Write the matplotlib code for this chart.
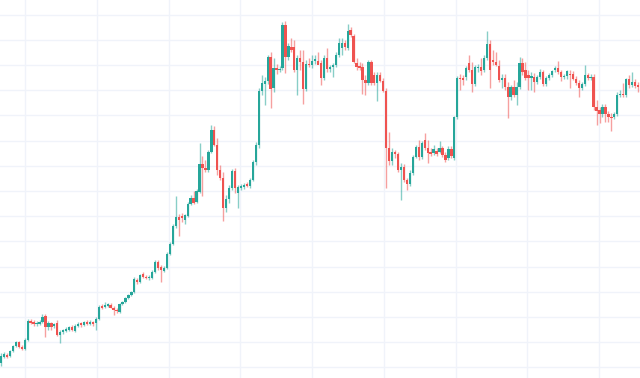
import numpy as np
import matplotlib
matplotlib.use("Agg")
import matplotlib.pyplot as plt

# OHLC values, one per candle
opens = [15, 21, 23, 22, 27, 32, 36, 31, 29, 38, 57, 56, 54, 54, 56, 62, 51, 55, 52, 55,
         43, 46, 47, 48, 51, 47, 52, 55, 53, 56, 54, 56, 55, 59, 72, 71, 72, 73, 70, 68,
         66, 74, 76, 80, 83, 86, 98, 96, 104, 101, 100, 100, 106, 116, 111, 107, 110, 124, 134, 152,
         161, 162, 158, 162, 174, 180, 176, 186, 214, 210, 208, 226, 248, 233, 208, 200, 170, 179, 190, 207,
         185, 190, 191, 194, 192, 198, 216, 233, 287, 294, 297, 321, 290, 310, 308, 310, 353, 321, 331, 331,
         308, 320, 316, 289, 314, 313, 317, 317, 315, 300, 320, 309, 311, 313, 323, 330, 335, 330, 348, 342,
         315, 312, 311, 298, 295, 316, 303, 295, 303, 297, 287, 230, 217, 226, 224, 208, 211, 198, 194, 205,
         221, 231, 221, 238, 230, 226, 225, 227, 226, 230, 223, 220, 229, 220, 261, 300, 300, 301, 315, 308,
         294, 310, 311, 308, 320, 334, 318, 316, 312, 298, 300, 291, 281, 291, 283, 291, 315, 308, 303, 300,
         301, 296, 301, 306, 294, 300, 303, 308, 310, 306, 301, 302, 304, 304, 299, 295, 290, 294, 303, 300,
         301, 271, 268, 264, 271, 264, 261, 261, 264, 283, 284, 283, 299, 293, 296, 293]
highs = [25, 26, 25, 28, 33, 37, 37, 33, 40, 59, 59, 58, 57, 58, 64, 64, 57, 56, 55, 58,
         48, 49, 51, 52, 53, 54, 56, 56, 57, 58, 58, 57, 61, 73, 74, 76, 75, 75, 72, 70,
         75, 77, 81, 84, 87, 101, 100, 104, 106, 103, 103, 108, 118, 118, 113, 112, 126, 136, 154, 182,
         164, 165, 164, 176, 183, 187, 189, 235, 222, 218, 228, 253, 252, 240, 213, 206, 183, 193, 209, 210,
         193, 194, 195, 196, 200, 218, 236, 290, 303, 301, 323, 326, 320, 314, 312, 356, 357, 335, 340, 338,
         323, 328, 328, 318, 320, 323, 323, 326, 318, 323, 330, 313, 315, 326, 340, 340, 338, 354, 351, 344,
         320, 316, 315, 303, 318, 318, 306, 306, 306, 300, 290, 246, 230, 228, 226, 215, 214, 200, 208, 223,
         233, 238, 237, 245, 238, 230, 233, 230, 237, 232, 226, 232, 232, 262, 302, 304, 303, 312, 323, 316,
         313, 314, 320, 323, 347, 338, 328, 326, 318, 304, 304, 296, 293, 298, 296, 321, 320, 316, 308, 306,
         305, 303, 309, 308, 302, 305, 308, 312, 317, 308, 304, 308, 308, 307, 302, 298, 296, 313, 305, 304,
         304, 278, 271, 274, 274, 267, 265, 266, 286, 288, 295, 300, 303, 306, 299, 296]
lows = [12, 20, 20, 21, 26, 31, 30, 28, 28, 37, 54, 52, 52, 53, 55, 41, 48, 48, 50, 42,
        35, 44, 46, 47, 47, 46, 51, 51, 52, 53, 53, 52, 48, 58, 69, 70, 71, 70, 63, 65,
        65, 73, 75, 79, 82, 85, 94, 95, 100, 99, 98, 99, 105, 108, 96, 106, 109, 123, 133, 150,
        142, 156, 154, 161, 173, 174, 175, 185, 182, 206, 206, 225, 232, 203, 198, 157, 166, 175, 188, 185,
        170, 188, 189, 191, 190, 197, 213, 230, 283, 273, 294, 270, 286, 304, 306, 308, 305, 318, 326, 306,
        283, 308, 274, 287, 311, 310, 314, 314, 293, 298, 306, 306, 301, 311, 321, 323, 328, 328, 341, 315,
        308, 308, 284, 283, 293, 293, 293, 277, 296, 286, 190, 213, 213, 220, 206, 178, 196, 188, 192, 203,
        220, 218, 219, 228, 215, 222, 223, 222, 225, 221, 216, 218, 220, 218, 259, 288, 293, 298, 306, 286,
        292, 306, 303, 306, 318, 290, 313, 312, 296, 290, 288, 260, 278, 281, 273, 289, 303, 298, 288, 288,
        286, 294, 299, 292, 292, 298, 301, 306, 304, 297, 299, 299, 290, 298, 293, 281, 288, 292, 298, 298,
        268, 253, 255, 261, 256, 256, 247, 259, 262, 281, 281, 281, 290, 291, 290, 286]
closes = [22, 24, 21, 27, 32, 36, 31, 29, 38, 57, 55, 54, 55, 56, 61, 51, 55, 51, 54, 43,
          46, 48, 49, 51, 48, 52, 54, 53, 56, 54, 56, 54, 59, 71, 70, 73, 74, 70, 68, 67,
          74, 76, 80, 83, 86, 99, 96, 103, 101, 100, 101, 106, 116, 110, 108, 110, 124, 134, 152, 161,
          158, 160, 163, 174, 180, 175, 187, 214, 210, 208, 226, 248, 233, 208, 200, 170, 179, 190, 207, 190,
          191, 192, 193, 192, 198, 216, 233, 287, 295, 297, 321, 289, 310, 308, 309, 353, 321, 332, 328, 308,
          320, 316, 289, 314, 313, 317, 319, 313, 300, 320, 309, 311, 313, 323, 335, 335, 331, 347, 343, 316,
          311, 310, 298, 295, 316, 295, 295, 303, 297, 287, 230, 217, 226, 224, 208, 211, 198, 194, 205, 221,
          231, 221, 235, 230, 225, 224, 229, 224, 230, 223, 218, 229, 222, 261, 300, 299, 298, 310, 308, 294,
          311, 311, 307, 320, 334, 308, 316, 313, 298, 300, 291, 281, 291, 283, 291, 315, 306, 300, 300, 302,
          296, 301, 306, 294, 300, 303, 307, 310, 306, 301, 302, 307, 303, 299, 295, 290, 294, 303, 300, 301,
          271, 267, 264, 271, 264, 261, 260, 264, 283, 284, 283, 299, 293, 296, 292, 291]

up_color = "#26a69a"
down_color = "#ef5350"
grid_color = "#f0f3fa"

o = np.array(opens, dtype=float)
h = np.array(highs, dtype=float)
l = np.array(lows, dtype=float)
c = np.array(closes, dtype=float)
x = np.arange(len(o))
rising = c >= o
colors = np.where(rising, up_color, down_color)

fig = plt.figure(figsize=(6.4, 3.78), dpi=100)
ax = fig.add_axes([0, 0, 1, 1])
ax.set_facecolor("white")

# grid: one vertical line every 24.2 candles, horizontal every 25.2 price units
for gx in np.arange(8.2, len(o), 24.2):
    ax.axvline(gx, color=grid_color, lw=1.0, zorder=0)
for gy in np.arange(10.7, 378, 25.2):
    ax.axhline(gy, color=grid_color, lw=1.0, zorder=0)

# wicks then bodies
ax.vlines(x, l, h, colors=colors, lw=1, alpha=0.55, zorder=1)
body_bottom = np.minimum(o, c)
body_height = np.maximum(np.abs(c - o), 0.9)
ax.bar(x, body_height, bottom=body_bottom, width=0.78, color=colors, linewidth=0, zorder=2)

ax.set_xlim(-0.34, 215.66)
ax.set_ylim(0, 378)
ax.set_xticks([])
ax.set_yticks([])
for spine in ax.spines.values():
    spine.set_visible(False)

fig.savefig("out.png", dpi=100, facecolor="white")
